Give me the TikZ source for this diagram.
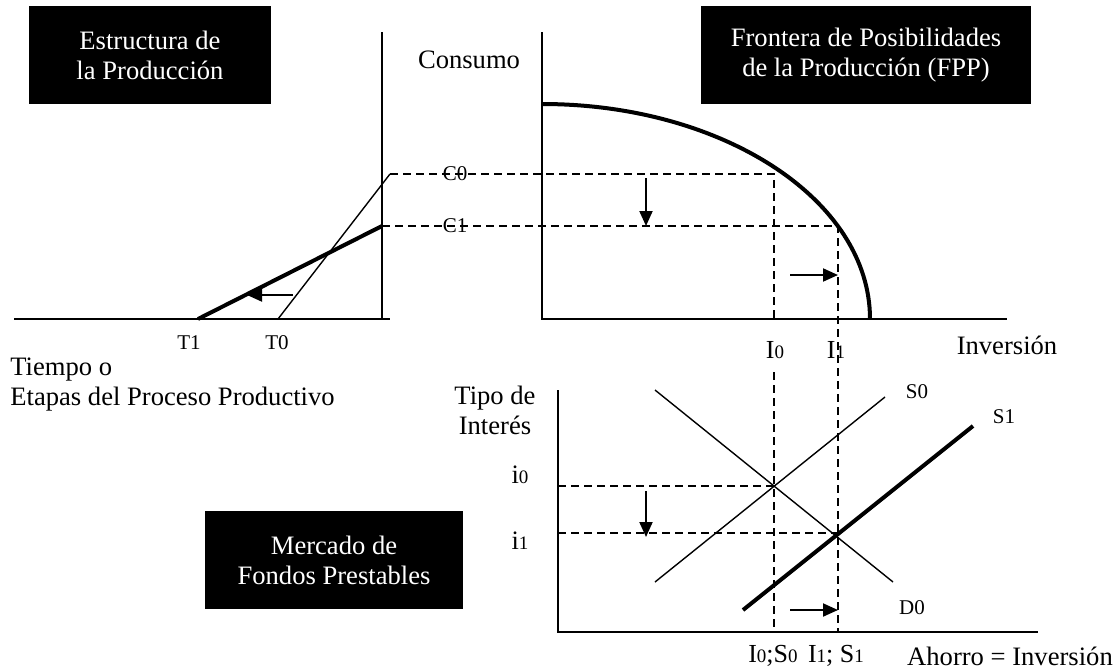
\documentclass[tikz,border=0pt]{standalone}
\usepackage{fontspec}
\setmainfont{Liberation Serif}
\usetikzlibrary{arrows.meta}
% smaller digit for the I0, i1 ... labels
\newcommand{\lowdig}[1]{{\fontsize{9.5}{11}\selectfont #1}}

\begin{document}
\begin{tikzpicture}[x=0.5pt,y=-0.5pt,
    axis/.style={line width=0.7pt},
    thinline/.style={line width=0.7pt},
    thickline/.style={line width=2pt},
    guide/.style={line width=0.7pt, dash pattern=on 4pt off 2.5pt},
    shiftarrow/.style={line width=1pt, -{Triangle[length=7.5pt,width=6.5pt]}},
    blackbox/.style={fill=black, text=white, align=center, minimum height=49pt,
        inner sep=0pt, font=\fontsize{13.3}{15}\selectfont},
    biglabel/.style={font=\fontsize{13.3}{15}\selectfont, inner sep=0pt},
    smalllabel/.style={font=\fontsize{10.5}{12}\selectfont, inner sep=0pt},
    sublabel/.style={font=\fontsize{13}{14}\selectfont, inner sep=0pt}]
    \useasboundingbox (0,0) rectangle (1119,670);
    % Define the points of the structure of production
    \coordinate (pO) at (382,319);
    \coordinate (pTop) at (382,32);
    \coordinate (pLeft) at (14,319);
    \coordinate (pRight) at (390,319);
    \coordinate (T1) at (198,319);
    \coordinate (T0) at (278,319);
    \coordinate (c1) at (382,226);
    \coordinate (c0) at (390,174);
    \coordinate (shiftA) at (293,295);
    \coordinate (shiftB) at (247,295);
    % Define the points of the FPP
    \coordinate (fO) at (542,319);
    \coordinate (fTop) at (542,32);
    \coordinate (fRight) at (1007,319);
    \coordinate (fppTop) at (542,104);
    \coordinate (k0) at (774,174);
    \coordinate (k1) at (838,226);
    \coordinate (k0Foot) at (774,319);
    \coordinate (downA) at (646,178);
    \coordinate (downB) at (646,226);
    \coordinate (rightA) at (790,275);
    \coordinate (rightB) at (838,275);
    % Define the points of the loanable funds market
    \coordinate (mO) at (558,632);
    \coordinate (mTop) at (558,390);
    \coordinate (mRight) at (1038,632);
    \coordinate (e0) at (774,486);
    \coordinate (e1) at (838,533);
    \coordinate (i0Axis) at (558,486);
    \coordinate (i1Axis) at (558,533);
    \coordinate (e0Top) at (774,372);
    \coordinate (e0Foot) at (774,632);
    \coordinate (e1Foot) at (838,632);
    \coordinate (D0a) at (655,390);
    \coordinate (D0b) at (893,582);
    \coordinate (S0a) at (655,582);
    \coordinate (S0b) at (885,397);
    \coordinate (S1a) at (743,610);
    \coordinate (S1b) at (973,426);
    \coordinate (mdownA) at (646,491);
    \coordinate (mdownB) at (646,537);
    \coordinate (mrightA) at (790,610);
    \coordinate (mrightB) at (838,610);
    % Title boxes
    \node[blackbox, minimum width=121pt] (boxEstructura) at (150,55) {Estructura de\\la Producción};
    \node[blackbox, minimum width=165pt] (boxFPP) at (866,55) {Frontera de Posibilidades\\de la Producción (FPP)};
    \node[blackbox, minimum width=129pt] (boxMercado) at (334,560) {Mercado de\\Fondos Prestables};
    % Labels
    \node[biglabel, align=left, anchor=west] (tiempo) at (10,385) {Tiempo o\\Etapas del Proceso Productivo};
    \node[smalllabel] (labT1) at (189,343) {T1};
    \node[smalllabel] (labT0) at (277,343) {T0};
    \node[smalllabel] (labC0) at (455,174) {C0};
    \node[smalllabel] (labC1) at (455,226) {C1};
    \node[biglabel] (consumo) at (469,60) {Consumo};
    \node[biglabel] (inversion) at (1007,345) {Inversión};
    \node[sublabel] (labI0) at (775,350) {I\lowdig{0}};
    \node[sublabel] (labI1) at (836,350) {I\lowdig{1}};
    \node[biglabel, align=center] (tipo) at (495,410) {Tipo de\\Interés};
    \node[biglabel] (labi0) at (520,475) {i\lowdig{0}};
    \node[biglabel] (labi1) at (520,541) {i\lowdig{1}};
    \node[smalllabel] (labS0) at (917,392) {S0};
    \node[smalllabel] (labS1) at (1004,417) {S1};
    \node[smalllabel] (labD0) at (912,608) {D0};
    \node[sublabel] (labIS0) at (773,656) {I\lowdig{0};S\lowdig{0}};
    \node[sublabel] (labIS1) at (836,656) {I\lowdig{1}; S\lowdig{1}};
    \node[biglabel] (ahorro) at (1010,656) {Ahorro = Inversión};
    % Structure of production
    \draw[axis] (pLeft) -- (pRight);
    \draw[axis] (pTop) -- (pO);
    \draw[thickline] (T1) -- (c1);
    \draw[thinline] (T0) -- (c0);
    \draw[shiftarrow] (shiftA) -- (shiftB);
    % FPP
    \draw[axis] (fTop) -- (fO) -- (fRight);
    \draw[thickline] (fppTop) arc[start angle=-90, end angle=0, x radius=328, y radius=215];
    \draw[guide] (c0) -- (k0) -- (k0Foot);
    \draw[guide] (c1) -- (k1) -- (e1Foot);
    \draw[shiftarrow] (downA) -- (downB);
    \draw[shiftarrow] (rightA) -- (rightB);
    % Loanable funds market
    \draw[axis] (mTop) -- (mO) -- (mRight);
    \draw[guide] (i0Axis) -- (e0);
    \draw[guide] (i1Axis) -- (e1);
    \draw[guide] (e0Top) -- (e0Foot);
    \draw[thinline] (D0a) -- (D0b);
    \draw[thinline] (S0a) -- (S0b);
    \draw[thickline] (S1a) -- (S1b);
    \draw[shiftarrow] (mdownA) -- (mdownB);
    \draw[shiftarrow] (mrightA) -- (mrightB);
\end{tikzpicture}
\end{document}
